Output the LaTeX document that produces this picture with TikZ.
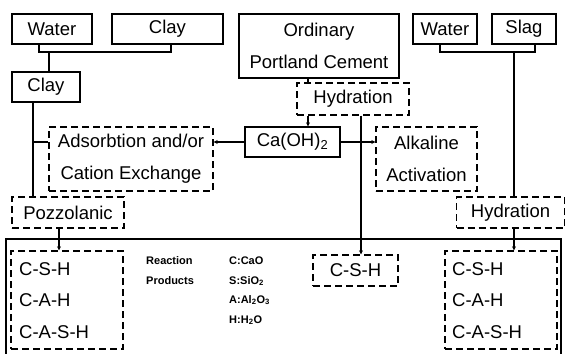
\documentclass[tikz,border=0pt]{standalone}
\usepackage{fontspec}
\setmainfont{Liberation Sans}
\usetikzlibrary{arrows.meta}
\begin{document}
\begin{tikzpicture}[x=1pt,y=-1pt,
  lw/.style={line width=1.3pt},
  solidbox/.style={draw,lw,inner sep=0pt,align=center,font=\fontsize{18.5}{32}\selectfont},
  dashbox/.style={solidbox,dash pattern=on 7pt off 4pt},
  conn/.style={lw},
  arr/.style={lw,-{Stealth[length=4pt,width=4pt]}},
  lbl/.style={inner sep=0pt,anchor=west,font=\fontsize{18.5}{20}\selectfont},
  small/.style={inner sep=0pt,anchor=west,font=\fontsize{11}{12}\selectfont\bfseries}]
\useasboundingbox (0,0) rectangle (566,354);
\begin{scope}
\clip (0,0) rectangle (566,354);
\draw[lw] (6,380) -- (6,239) -- (561,239) -- (561,380);
\end{scope}
\node[solidbox,minimum width=80pt,minimum height=30pt] (w1) at (52,29) {Water};
\node[solidbox,minimum width=111pt,minimum height=30pt] (c1) at (167.5,29) {Clay};
\node[solidbox,minimum width=68pt,minimum height=30pt] (c2) at (46,87) {Clay};
\node[dashbox,minimum width=164pt,minimum height=64pt] (ads) at (131,159) {Adsorbtion and/or\\Cation Exchange};
\node[solidbox,minimum width=160pt,minimum height=64pt] (opc) at (319,46) {Ordinary\\Portland Cement};
\node[dashbox,minimum width=112pt,minimum height=32pt] (hyd1) at (353,99) {Hydration};
\node[solidbox,minimum width=95pt,minimum height=30pt] (ca) at (292.5,142) {Ca(OH)\textsubscript{2}};
\node[dashbox,minimum width=101pt,minimum height=64pt] (alk) at (426.5,159) {Alkaline\\Activation};
\node[solidbox,minimum width=64pt,minimum height=30pt] (w2) at (445,29) {Water};
\node[solidbox,minimum width=64pt,minimum height=30pt] (slag) at (524,29) {Slag};
\node[dashbox,minimum width=108pt,minimum height=31pt] (hyd2) at (510.5,212.5) {Hydration};
\node[dashbox,minimum width=112pt,minimum height=31pt] (pozz) at (68,212.5) {Pozzolanic};
\node[dashbox,minimum width=112pt,minimum height=98pt] (p1) at (67,300) {};
\node[dashbox,minimum width=85pt,minimum height=31pt] (csh) at (355.5,270.5) {C-S-H};
\node[dashbox,minimum width=112pt,minimum height=98pt] (p2) at (501,300) {};
\node[lbl] (p1a) at (19,269) {C-S-H};
\node[lbl] (p1b) at (19,300) {C-A-H};
\node[lbl] (p1c) at (19,332) {C-A-S-H};
\node[lbl] (p2a) at (452,269) {C-S-H};
\node[lbl] (p2b) at (452,300) {C-A-H};
\node[lbl] (p2c) at (452,332) {C-A-S-H};
\node[small] (rx) at (146,261) {Reaction};
\node[small] (pr) at (146,281) {Products};
\node[small] (k1) at (229,261) {C:CaO};
\node[small] (k2) at (229,281) {S:SiO\textsubscript{2}};
\node[small] (k3) at (229,300) {A:Al\textsubscript{2}O\textsubscript{3}};
\node[small] (k4) at (229,320) {H:H\textsubscript{2}O};
% connectors
\coordinate (j1) at (49,52);
\draw[conn] (w1.south -| 39,0) |- (j1) -| (c1.south -| 171,0);
\draw[conn] (j1) -- (c2.north -| j1);
\coordinate (j2) at (33,142);
\draw[conn] (c2.south -| j2) -- (pozz.north -| j2);
\draw[conn] (j2) -- (ads.west |- j2);
\draw[arr] (ca.west) -- (ads.east |- ca.west);
\draw[conn] (opc.south -| 308,0) -- (hyd1.north -| 308,0);
\draw[arr] (hyd1.south -| 308,0) -- (ca.north -| 308,0);
\draw[arr] (hyd1.south -| 361,0) -- (csh.north -| 361,0);
\draw[arr] (ca.east) -- (alk.west |- ca.east);
\coordinate (j3) at (514,52);
\draw[conn] (w2.south -| 440,0) |- (j3) -| (slag.south -| 535,0);
\draw[conn] (j3) -- (hyd2.north -| j3);
\draw[arr] (hyd2.south -| j3) -- (p2.north -| j3);
\draw[arr] (pozz.south -| 59,0) -- (p1.north -| 59,0);
\end{tikzpicture}
\end{document}
